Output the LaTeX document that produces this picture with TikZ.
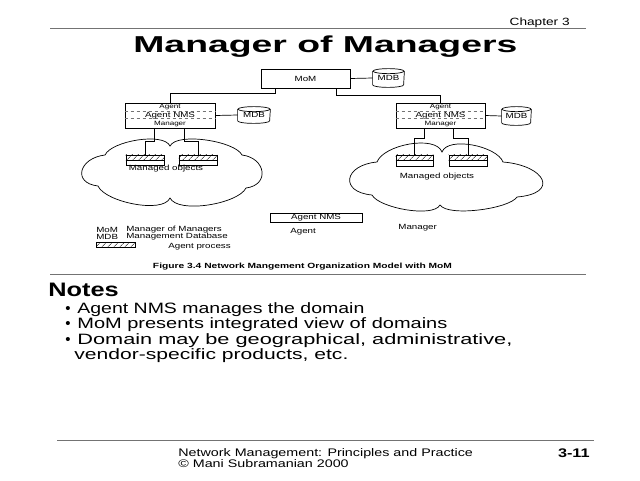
\documentclass[tikz,border=0pt]{standalone}
\usepackage{fontspec}
\usepackage{graphicx}
\setmainfont{Liberation Sans}
\newfontfamily\wfont[FakeStretch=1.3]{Liberation Sans}
\usetikzlibrary{patterns.meta}
\newcommand\fsz[1]{\fontsize{#1}{#1}\selectfont}
\newcommand\cylbody[2]{%
  \draw[wire] ([yshift=-2.5pt]#1.north west) -- ([yshift=2.5pt]#1.south west)
    arc[start angle=180,end angle=0,x radius=#2,y radius=2.5] -- ([yshift=-2.5pt]#1.north east);
  \draw[wire] ([yshift=-2.5pt]#1.north) ellipse [x radius=#2, y radius=2.5];}
\newcommand\halfhatch[1]{%
  \fill[hatch] (#1.north west) rectangle (#1.east);
  \draw[wire] (#1.west) -- (#1.east);}
\newcommand\wbox[2]{\resizebox{#1pt}{\height}{#2}}
\begin{document}
\begin{tikzpicture}[x=1pt,y=-1pt,line width=0.75pt,
  dtxt/.style={inner sep=0pt,font=\wfont\fsz{7.5}},
  stxt/.style={inner sep=0pt,font=\wfont\fsz{6.2}},
  frame/.style={draw,inner sep=0pt,line width=0.7pt},
  hrule/.style={draw=black!55,line width=1pt},
  innerdash/.style={draw=black!55,dash pattern=on 3.5pt off 2.5pt,line width=0.6pt},
  wire/.style={draw,line width=0.7pt},
  hatch/.style={pattern={Lines[angle=45,distance=4pt,line width=0.5pt]}},
  cylnode/.style={inner sep=0pt,font=\wfont\fsz{7.5}},
  cloudline/.style={draw,line width=0.7pt},
  big/.style={inner sep=0pt,anchor=base west},
  note/.style={inner sep=0pt,anchor=base west,font=\fsz{15}}]
\useasboundingbox (0,0) rectangle (640,480);
\fill[white] (0,0) rectangle (640,480);

% header
\node[inner sep=0pt,anchor=base east,font=\wfont\fsz{10.5}] (chap) at (570,25) {Chapter 3};
\coordinate (tl1) at (50,28); \coordinate (tl2) at (586,28);
\draw[hrule] (tl1) -- (tl2);
\node[big] (title) at (133,52) {\wbox{384}{\fsz{23}\bfseries Manager of Managers}};

% clouds
\draw[cloudline] (105,155)
  .. controls (111.5,141) and (163.5,132) .. (170,146)
  .. controls (177,132) and (235,141) .. (242,155)
  .. controls (266,158) and (270,185) .. (246,188)
  .. controls (238,204) and (178,214) .. (170,198)
  .. controls (163,214) and (105,202) .. (98,186)
  .. controls (72,183) and (79,158) .. (105,155) -- cycle;
\draw[cloudline] (377,162)
  .. controls (383.5,144.7) and (435.5,134.7) .. (442,152)
  .. controls (448,136) and (497,146) .. (503,162)
  .. controls (545.7,165.5) and (559.7,193.5) .. (517,197)
  .. controls (509,209) and (448,217) .. (440,205)
  .. controls (433,218) and (379,208) .. (372,195)
  .. controls (339,192) and (344,165) .. (377,162) -- cycle;

% MoM
\node[frame,minimum width=89pt,minimum height=19pt,font=\wfont\fsz{7.5}] (mom) at (305.5,78.5) {MoM};
\node[cylnode,minimum width=31pt,minimum height=18pt] (mdb0) at (388.5,78) {MDB};
\cylbody{mdb0}{15.5}
\draw[wire] (mom.east) -- (mdb0.west);

% NMS boxes
\node[frame,minimum width=90pt,minimum height=25pt] (nms1) at (170,115.5) {};
\node[frame,minimum width=89pt,minimum height=25pt] (nms2) at (440.5,115.5) {};
\foreach \n in {nms1,nms2}{
  \draw[innerdash] ([yshift=-9pt]\n.north west) -- ([yshift=-9pt]\n.north east);
  \draw[innerdash] ([yshift=-16pt]\n.north west) -- ([yshift=-16pt]\n.north east);
}
\node[stxt] (ag1) at ([yshift=-4.8pt]nms1.north) {Agent};
\node[dtxt] (an1) at (nms1.center) {Agent NMS};
\node[stxt] (mg1) at ([yshift=4.6pt]nms1.south) {Manager};
\node[stxt] (ag2) at ([yshift=-4.8pt]nms2.north) {Agent};
\node[dtxt] (an2) at (nms2.center) {Agent NMS};
\node[stxt] (mg2) at ([yshift=4.6pt]nms2.south) {Manager};

\node[cylnode,minimum width=32pt,minimum height=16pt] (mdb1) at (254,115) {MDB};
\cylbody{mdb1}{16}
\node[cylnode,minimum width=29pt,minimum height=18pt] (mdb2) at (516.5,116) {MDB};
\cylbody{mdb2}{14.5}
\draw[wire] (nms1.east) -- (mdb1.west);
\draw[wire] (nms2.east) -- (mdb2.west);

\draw[wire] ([xshift=-30.5pt]mom.south) -- ++(0,5) -| (nms1.north);
\draw[wire] ([xshift=30.5pt]mom.south) -- ++(0,6.5) -| (nms2.north);

% agent processes
\node[frame,minimum width=38pt,minimum height=10pt] (ap1) at (145,160) {};
\node[frame,minimum width=38pt,minimum height=10pt] (ap2) at (198,160) {};
\node[frame,minimum width=37pt,minimum height=11pt] (ap3) at (414.5,160.5) {};
\node[frame,minimum width=38pt,minimum height=11pt] (ap4) at (468,160.5) {};
\halfhatch{ap1}\halfhatch{ap2}\halfhatch{ap3}\halfhatch{ap4}
\draw[wire] ([xshift=-16pt]nms1.south) -- ++(0,13) -| (ap1.north);
\draw[wire] ([xshift=14pt]nms1.south) -- ++(0,13) -| (ap2.north);
\draw[wire] ([xshift=-16.5pt]nms2.south) -- ++(0,10) -| (ap3.north);
\draw[wire] ([xshift=12.5pt]nms2.south) -- ++(0,10) -| (ap4.north);

\node[dtxt] (mo1) at (166,168.5) {Managed objects};
\node[dtxt] (mo2) at (437,177) {Managed objects};

% legend
\node[frame,minimum width=92pt,minimum height=9pt,font=\wfont\fsz{7.5}] (lnms) at (316,217.5) {Agent NMS};
\node[dtxt,anchor=west] (lag) at (290,232) {Agent};
\node[dtxt,anchor=west] (lmg) at (398,228) {Manager};
\node[dtxt,anchor=west] (k1) at (96,230) {MoM};
\node[dtxt,anchor=west] (v1) at (126,230) {Manager of Managers};
\node[dtxt,anchor=west] (k2) at (96,237) {MDB};
\node[dtxt,anchor=west] (v2) at (126,237) {Management Database};
\node[frame,minimum width=39pt,minimum height=5pt,hatch] (lap) at (115.5,244.5) {};
\node[dtxt,anchor=west] (lapt) at (168,247) {Agent process};
\node[inner sep=0pt] (cap) at (302.5,267) {\wbox{299}{\fsz{7.5}\bfseries Figure 3.4 Network Mangement Organization Model with MoM}};

\coordinate (nl1) at (50,274); \coordinate (nl2) at (586,274);
\draw[hrule] (nl1) -- (nl2);

% notes
\node[big,font=\wfont\fsz{19.5}\bfseries] (notes) at (48,296) {Notes};
\node[note] (b1) at (65,313) {\textbullet};
\node[note] (t1) at (77,313) {\wbox{287}{Agent NMS manages the domain}};
\node[note] (b2) at (65,328.5) {\textbullet};
\node[note] (t2) at (77,328.5) {\wbox{370}{MoM presents integrated view of domains}};
\node[note] (b3) at (65,344) {\textbullet};
\node[note] (t3) at (77,344) {\wbox{435}{Domain may be geographical, administrative,}};
\node[note] (t4) at (74,359.5) {\wbox{274}{vendor-specific products, etc.}};

% footer
\coordinate (fl1) at (57,440); \coordinate (fl2) at (594,440);
\draw[hrule] (fl1) -- (fl2);
\node[big,font=\wfont\fsz{11}] (f1) at (178,456) {Network Management: Principles and Practice};
\node[big,font=\wfont\fsz{11}] (f2) at (178,467) {© Mani Subramanian 2000};
\node[inner sep=0pt,anchor=base east,font=\wfont\fsz{12.5}\bfseries] (pg) at (590,457) {3-11};
\end{tikzpicture}
\end{document}
